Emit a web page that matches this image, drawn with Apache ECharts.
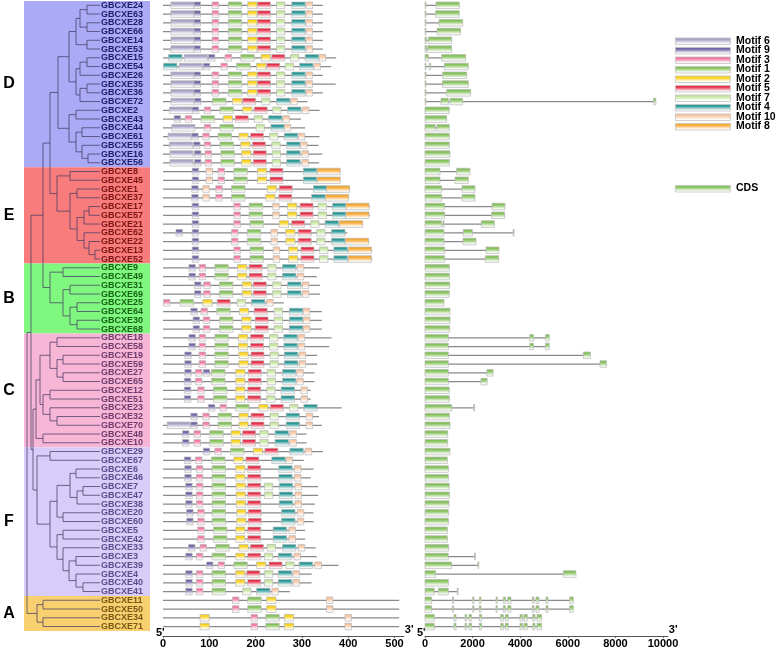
<!DOCTYPE html>
<html><head><meta charset="utf-8">
<script src="https://cdn.jsdelivr.net/npm/echarts@6/dist/echarts.min.js"></script>
<style>html,body{margin:0;padding:0;background:#fff}#c{width:777px;height:651px}</style>
</head><body><div id="c"></div>
<script>
// ---------------- DATA ----------------
const genes = [24,63,28,66,14,53,15,54,26,35,36,72,2,43,44,61,55,16,56,
  8,45,1,37,17,57,21,62,22,13,52,
  9,49,31,69,25,64,30,68,
  18,58,19,59,27,65,12,51,23,32,70,48,10,
  29,67,6,46,7,47,38,20,60,5,42,33,3,39,4,40,41,
  11,50,34,71];
const groupNames = ['D','E','B','C','F','A'];
const groupStart = [0,19,30,38,51,68];
const groupEnd   = [18,29,37,50,67,71];

const motifNames = ['Motif 6','Motif 9','Motif 3','Motif 1','Motif 2','Motif 5','Motif 7','Motif 4','Motif 10','Motif 8'];
const motifIds = [6,9,3,1,2,5,7,4,10,8];
const motifWidth = {6:50,9:14,3:14,1:29,2:20,5:28,7:18,4:29,10:14,8:50};

const proteinLen = [345,345,345,345,345,345,374,363,345,373,345,312,338,298,307,338,336,344,337,
  382,382,404,401,447,447,432,398,445,452,452,
  338,332,339,339,261,343,343,343,
  364,359,333,333,327,327,319,319,386,337,343,310,310,
  345,304,325,319,335,335,328,325,325,307,307,330,332,379,321,321,274,
  510,510,510,510];

const D0 = [[6,17],[9,67],[3,106],[1,141],[2,183],[5,204],[7,245],[4,278],[10,309]];
const motifs = [
  D0, D0, D0, D0, D0, D0,
  [[4,12],[6,46],[9,98],[3,134],[1,168],[2,212],[5,235],[7,275],[4,307],[10,337]],
  [[4,1],[6,35],[9,87],[3,125],[1,159],[2,202],[5,224],[7,264],[4,295],[10,326]],
  D0, D0, D0,
  [[6,17],[9,68],[1,107],[2,150],[5,172],[7,213],[4,245],[10,276]],
  [[6,14],[9,63],[3,89],[1,123],[2,172],[5,197],[7,237],[4,269],[10,301]],
  [[9,24],[3,48],[1,82],[2,130],[5,156],[7,197],[4,228],[10,259]],
  [[6,19],[3,89],[1,123],[7,201],[4,233],[10,262]],
  [[6,11],[9,62],[3,86],[1,119],[2,164],[5,189],[7,230],[4,262],[10,292]],
  [[6,14],[9,66],[3,89],[1,123],[2,168],[5,193],[7,235],[4,267],[10,297]],
  [[6,15],[9,68],[3,91],[1,125],[2,170],[5,195],[7,236],[4,267],[10,300]],
  [[6,15],[9,68],[3,91],[1,125],[2,170],[5,195],[7,236],[4,267],[10,300]],
  // E
  [[9,63],[10,93],[3,119],[1,153],[2,204],[5,231],[4,303],[8,333]],
  [[9,63],[10,93],[3,119],[1,153],[2,204],[5,231],[4,303],[8,333]],
  [[9,62],[10,86],[3,114],[1,148],[2,225],[5,251],[4,325],[8,353]],
  [[9,62],[10,86],[3,114],[1,148],[2,222],[5,250],[4,321],[8,351]],
  [[9,63],[3,153],[1,186],[10,237],[2,269],[5,296],[7,335],[4,366],[8,395]],
  [[9,63],[3,153],[1,186],[10,237],[2,269],[5,296],[7,335],[4,366],[8,395]],
  [[9,63],[3,153],[1,188],[2,251],[5,278],[7,319],[4,350],[8,381]],
  [[9,28],[9,63],[3,148],[1,182],[10,233],[2,265],[5,292],[7,332],[4,364]],
  [[9,63],[3,148],[1,182],[10,233],[2,265],[5,292],[7,332],[4,364],[8,394]],
  [[9,63],[3,153],[1,188],[10,238],[2,271],[5,298],[7,338],[4,369],[8,400]],
  [[9,63],[3,153],[1,188],[10,238],[2,271],[5,298],[7,338],[4,369],[8,400]],
  // B
  [[9,56],[3,78],[1,112],[2,161],[5,186],[7,226],[4,258],[10,290]],
  [[9,56],[3,78],[1,112],[2,161],[5,186],[7,226],[4,258],[10,290]],
  [[9,68],[3,88],[1,122],[2,171],[5,195],[7,237],[4,269],[10,301]],
  [[9,68],[3,88],[1,122],[2,171],[5,195],[7,237],[4,269],[10,301]],
  [[3,1],[1,37],[2,86],[5,117],[7,160],[4,191],[10,224]],
  [[9,60],[3,82],[1,116],[2,165],[5,197],[7,240],[4,273],[10,303]],
  [[9,65],[3,87],[1,122],[2,170],[5,199],[7,240],[4,273],[10,303]],
  [[9,65],[3,87],[1,122],[2,170],[5,199],[7,240],[4,273],[10,303]],
  // C
  [[9,56],[3,78],[1,112],[2,163],[5,189],[7,230],[4,261],[10,292]],
  [[9,56],[3,78],[1,112],[2,163],[5,189],[7,230],[4,261],[10,292]],
  [[9,47],[3,78],[1,112],[2,164],[5,190],[7,231],[4,262],[10,294]],
  [[9,47],[3,78],[1,112],[2,164],[5,190],[7,231],[4,262],[10,294]],
  [[9,47],[3,70],[9,87],[1,105],[2,157],[5,184],[7,225],[4,258],[10,289]],
  [[9,46],[3,70],[1,105],[2,157],[5,184],[7,225],[4,258],[10,289]],
  [[9,46],[3,75],[1,109],[2,157],[5,183],[7,224],[4,255],[10,298]],
  [[9,46],[3,75],[1,109],[2,157],[5,183],[7,224],[4,255],[10,298]],
  [[9,98],[3,123],[1,157],[2,207],[5,232],[7,273],[4,304]],
  [[9,60],[3,86],[1,119],[2,164],[5,190],[7,231],[4,266],[10,309]],
  [[6,9],[9,60],[3,86],[1,119],[2,164],[5,190],[7,231],[4,266],[10,309]],
  [[9,42],[3,67],[1,101],[2,147],[5,172],[7,209],[4,242],[10,274]],
  [[9,42],[3,67],[1,101],[2,147],[5,172],[7,209],[4,242],[10,274]],
  // F
  [[9,87],[3,112],[1,146],[2,195],[5,220],[4,274],[10,307]],
  [[9,46],[3,70],[1,105],[2,153],[5,179],[4,235],[10,266]],
  [[9,47],[3,72],[1,106],[2,157],[5,183],[4,250],[10,284]],
  [[9,47],[3,72],[1,106],[2,157],[5,183],[4,250],[10,284]],
  [[9,49],[3,72],[1,106],[2,158],[5,183],[7,219],[4,251],[10,285]],
  [[9,49],[3,72],[1,106],[2,158],[5,183],[7,219],[4,251],[10,285]],
  [[9,49],[3,72],[1,106],[2,158],[5,183],[4,251],[10,285]],
  [[9,51],[3,75],[1,106],[2,159],[5,184],[4,256],[10,290]],
  [[9,51],[3,75],[1,106],[2,159],[5,184],[4,256],[10,290]],
  [[3,75],[1,109],[2,157],[5,183],[4,238],[10,272]],
  [[3,75],[1,109],[2,157],[5,183],[4,238],[10,272]],
  [[9,55],[3,80],[1,114],[2,164],[5,189],[7,225],[4,258],[10,292]],
  [[9,49],[3,72],[1,106],[2,157],[5,183],[7,219],[4,249],[10,283]],
  [[9,94],[3,119],[1,153],[2,202],[5,229],[7,265],[4,294],[10,328]],
  [[9,49],[3,72],[1,106],[2,157],[5,181],[7,219],[4,249],[10,281]],
  [[9,49],[3,72],[1,106],[2,157],[5,183],[7,219],[4,249],[10,281]],
  [[9,49],[3,72],[1,106],[7,172],[4,202],[10,235]],
  // A
  [[3,150],[1,183],[2,224],[10,353]],
  [[3,150],[1,183],[2,224],[10,353]],
  [[2,80],[3,190],[1,222],[2,262],[10,393]],
  [[2,80],[3,190],[1,222],[2,262],[10,393]]
];

const A11 = [[0,280],[1150,1200],[2002,2058],[2282,2352],[2982,3038],[3290,3374],[3472,3612],[4508,4578],[4662,4788],[5082,5166],[6076,6230]];
const A34 = [[0,392],[1218,1302],[1680,1750],[1848,1960],[2282,2380],[3178,3290],[3374,3500],[3990,4102],[4158,4298],[4522,4620],[4704,4900]];
const exons = [
  [[0,40],[462,1442]],[[0,40],[448,1442]],[[0,40],[588,1582]],[[0,40],[504,1498]],
  [[0,60],[140,1120]],[[0,60],[112,1120]],[[0,140],[700,1708]],[[0,40],[182,238],[812,1820]],
  [[0,40],[742,1750]],[[0,40],[728,1820]],[[0,40],[910,1918]],
  [[0,40],[672,980],[1050,1582],[9600,9700]],
  [[0,1022]],[[0,910]],[[0,434],[504,1022]],[[0,1022]],[[0,1022]],[[0,1050]],[[0,1022]],
  // E
  [[0,630],[1330,1890]],[[0,630],[1260,1820]],[[0,700],[1554,2100]],[[0,700],[1554,2100]],
  [[0,826],[2814,3360]],[[0,826],[2800,3346]],[[0,700],[756,800],[2366,2912]],
  [[0,798],[1610,1988],[3700,3744]],[[0,798],[1596,2142]],[[0,826],[2562,3108]],[[0,826],[2534,3094]],
  // B
  [[0,1022]],[[0,1022]],[[0,1036]],[[0,1022]],[[0,798]],[[0,1050]],[[0,1050]],[[0,1036]],
  // C
  [[0,980],[4400,4560],[5060,5220]],[[0,980],[4400,4560],[5060,5220]],
  [[0,980],[6650,6950]],[[0,980],[7350,7620]],[[0,980],[2600,2860]],[[0,980],[2350,2610]],
  [[0,1022]],[[0,1022]],[[0,1120],[2040,2070]],[[0,1022]],[[0,1050]],[[0,952]],[[0,952]],
  // F
  [[0,1050]],[[0,938]],[[0,980]],[[0,980]],[[0,1022]],[[0,1022]],[[0,1008]],[[0,980]],[[0,980]],
  [[0,938]],[[0,938]],[[0,994]],[[0,980],[2080,2110]],[[0,1120],[2220,2250]],
  [[0,448],[5810,6342]],[[0,980]],[[0,392],[560,980],[1350,1372]],
  // A
  A11, A11, A34, A34
];

// tree: [nodeDepth, child, child...]; numbers are leaves (gene ids)
const treeD = [58,
  [69, [76, [80,[87,24,63],[87,28,66]], [87,14,53]],
       [76, [80,[87,15,54],26], [80,[87,35,36],72]]],
  [69, [76,2,43], [76,[82,44,61],[82,55,[88,16,56]]]]];
const treeE = [57, [70,8,45], [70,[77,1,37],[77,[84,[89,17,57],21],[84,62,[89,22,[95,13,52]]]]]];
const treeB = [50, [63,9,49], [63,[70,31,69],[70,[77,25,64],[77,30,68]]]];
const treeC = [36, [40,[50,[57,18,58],[57,[63,19,59],[63,27,65]]],[43,[50,12,51],[50,23,[57,32,70]]]], [43,48,10]];
const treeF = [37, [50,29,67], [50,[57,[70,[76,6,46],[77,[83,7,47],38]],[63,20,60]],[57,[63,5,42],[63,33,[69,[76,3,39],[76,4,[83,40,41]]]]]]];
const treeA = [37, [43,11,50], [43,34,71]];
const tree = [27, [31, [43,[50,treeD,treeE],treeB], [33,treeC,treeF]], treeA];

const axisMotifTicks = [0,100,200,300,400,500];
const axisGeneTicks = [0,2000,4000,6000,8000,10000];

// ---------------- STYLE / BUILD ----------------
const bandColors = ['#aaaaf6','#f87c7c','#80f880','#f8b6d6','#d8ccf8','#f8d070'];
const labelColors = ['#1c1c6a','#7a1414','#146414','#6e3c6e','#5c4c8c','#7a5814'];
const motifColors = {6:'#a7a3c5',9:'#7264a4',3:'#f27aa2',1:'#86c25c',2:'#f8d21c',5:'#e6304a',7:'#c6e6a0',4:'#2a9896',10:'#f8c6a2',8:'#f6a832'};
const cdsColor = '#86c25c';
const FONT = '"Liberation Sans", Arial, Helvetica, sans-serif';
function grad(c){
  return new echarts.graphic.LinearGradient(0,0,0,1,[
    {offset:0,color:c},{offset:0.28,color:c},{offset:0.85,color:'#ffffff'},{offset:1,color:'#f2f2f2'}]);
}

const rowOf = {}; genes.forEach((g,i)=>rowOf[g]=i);
const geneGroup = genes.map((g,i)=>{ for(let k=0;k<groupStart.length;k++){ if(i>=groupStart[k]&&i<=groupEnd[k]) return k;} return 0;});

const LEAF_X = 100;
const segs = [];
function lay(node){
  if (typeof node === 'number') return [LEAF_X, rowOf[node]];
  const x = node[0];
  const ch = node.slice(1).map(lay);
  const ys = ch.map(c=>c[1]);
  const y0 = Math.min(...ys), y1 = Math.max(...ys);
  segs.push([x,y0,x,y1]);
  ch.forEach(c=>segs.push([x,c[1],c[0],c[1]]));
  return [x,(y0+y1)/2];
}
lay(tree);

const bandData = groupNames.map((n,k)=>[groupStart[k],groupEnd[k],k]);
const labelData = genes.map((g,i)=>[i,geneGroup[i]]);
const motifBack = genes.map((g,i)=>[0,i,proteinLen[i]]);
const motifData = [];
motifs.forEach((arr,i)=>arr.forEach(m=>motifData.push([m[1],i,m[1]+motifWidth[m[0]],m[0]])));
const geneBack = exons.map((ex,i)=>[ex[0][0],i,ex[ex.length-1][1]]);
const exonData = [];
exons.forEach((ex,i)=>ex.forEach(e=>exonData.push([e[0],i,e[1]])));

const chart = echarts.init(document.getElementById('c'), null, {renderer:'canvas'});
const TOP = 0.9, H = 630, BOXH = 6.6;
const yAx = i=>({gridIndex:i,type:'value',min:-0.5,max:71.5,inverse:true,show:false});
const lbl = {color:'#000',fontWeight:'bold',fontSize:11,fontFamily:FONT,margin:3,showMaxLabel:true,showMinLabel:true,formatter:v=>String(v)};
const axisCommon = {
  type:'value', position:'bottom', offset:5,
  axisLine:{show:true,onZero:false,lineStyle:{color:'#555',width:1}},
  splitLine:{show:false},
  nameLocation:'end', nameGap:1,
  nameTextStyle:{color:'#000',fontWeight:'bold',fontSize:11,fontFamily:FONT,verticalAlign:'bottom'}
};

const legendGraphics = [];
motifNames.forEach((n,k)=>{
  const y = 37.5 + k*9.5;
  legendGraphics.push({type:'rect',left:675,top:y,shape:{width:55,height:BOXH},style:{fill:grad(motifColors[motifIds[k]]),stroke:'#c4c4c4',lineWidth:0.8}});
  legendGraphics.push({type:'text',left:736,top:y-2,style:{text:n,fill:'#000',font:'bold 10.5px '+FONT}});
});
legendGraphics.push({type:'rect',left:675,top:185,shape:{width:55,height:BOXH},style:{fill:grad(cdsColor),stroke:'#c4c4c4',lineWidth:0.8}});
legendGraphics.push({type:'text',left:736,top:183,style:{text:'CDS',fill:'#000',font:'bold 10.5px '+FONT}});
legendGraphics.push({type:'text',left:156,top:627,style:{text:"5'",fill:'#000',font:'bold 11px '+FONT}});
legendGraphics.push({type:'text',left:417,top:627,style:{text:"5'",fill:'#000',font:'bold 11px '+FONT}});

const option = {
  animation:false,
  backgroundColor:'#fff',
  grid:[
    {left:0,top:TOP,width:150,height:H},
    {left:163,top:TOP,width:240.8,height:H},
    {left:425,top:TOP,width:242.8,height:H}
  ],
  xAxis:[
    {gridIndex:0,type:'value',min:0,max:150,show:false},
    Object.assign({},axisCommon,{gridIndex:1,min:0,max:520,interval:100,name:"3'",
      axisLabel:Object.assign({},lbl,{customValues:axisMotifTicks}),
      axisTick:{show:true,length:2,lineStyle:{color:'#555'},customValues:axisMotifTicks}}),
    Object.assign({},axisCommon,{gridIndex:2,min:0,max:10200,interval:2000,name:"3'",
      axisLabel:Object.assign({},lbl,{customValues:axisGeneTicks}),
      axisTick:{show:true,length:2,lineStyle:{color:'#555'},customValues:axisGeneTicks}})
  ],
  yAxis:[yAx(0),yAx(1),yAx(2)],
  graphic:legendGraphics,
  series:[
    {type:'custom',xAxisIndex:0,yAxisIndex:0,data:bandData,z:1,
     renderItem:(p,api)=>{
       const a = api.coord([24, api.value(0)-0.5]);
       const b = api.coord([150, api.value(1)+0.5]);
       const k = api.value(2);
       const mid = api.coord([9, (api.value(0)+api.value(1))/2]);
       return {type:'group',children:[
         {type:'rect',shape:{x:a[0],y:a[1],width:b[0]-a[0],height:b[1]-a[1]},style:{fill:bandColors[k]}},
         {type:'text',style:{text:groupNames[k],x:mid[0],y:mid[1],fill:'#000',font:'bold 16px '+FONT,align:'center',verticalAlign:'middle'}}
       ]};
     }},
    {type:'custom',xAxisIndex:0,yAxisIndex:0,data:segs,z:2,
     renderItem:(p,api)=>{
       const a = api.coord([api.value(0),api.value(1)]);
       const b = api.coord([api.value(2),api.value(3)]);
       return {type:'line',shape:{x1:a[0],y1:a[1],x2:b[0],y2:b[1]},style:{stroke:'rgba(70,60,100,0.75)',lineWidth:1}};
     }},
    {type:'custom',xAxisIndex:0,yAxisIndex:0,data:labelData,z:3,
     renderItem:(p,api)=>{
       const i = api.value(0);
       const a = api.coord([LEAF_X+1, i]);
       return {type:'text',style:{text:'GBCXE'+genes[i],x:a[0],y:a[1],fill:labelColors[api.value(1)],font:'bold 9px '+FONT,align:'left',verticalAlign:'middle'}};
     }},
    {type:'custom',xAxisIndex:1,yAxisIndex:1,data:motifBack,z:2,
     renderItem:(p,api)=>{
       const a = api.coord([api.value(0),api.value(1)]);
       const b = api.coord([api.value(2),api.value(1)]);
       return {type:'line',shape:{x1:a[0],y1:a[1],x2:b[0],y2:b[1]},style:{stroke:'#8a8a8a',lineWidth:1.3}};
     }},
    {type:'custom',xAxisIndex:1,yAxisIndex:1,data:motifData,z:3,
     renderItem:(p,api)=>{
       const a = api.coord([api.value(0),api.value(1)]);
       const b = api.coord([api.value(2),api.value(1)]);
       return {type:'rect',shape:{x:a[0],y:a[1]-BOXH/2,width:b[0]-a[0],height:BOXH},style:{fill:grad(motifColors[api.value(3)]),stroke:'#b8b8b8',lineWidth:0.7}};
     }},
    {type:'custom',xAxisIndex:2,yAxisIndex:2,data:geneBack,z:2,
     renderItem:(p,api)=>{
       const a = api.coord([api.value(0),api.value(1)]);
       const b = api.coord([api.value(2),api.value(1)]);
       return {type:'line',shape:{x1:a[0],y1:a[1],x2:b[0],y2:b[1]},style:{stroke:'#8a8a8a',lineWidth:1.3}};
     }},
    {type:'custom',xAxisIndex:2,yAxisIndex:2,data:exonData,z:3,
     renderItem:(p,api)=>{
       const a = api.coord([api.value(0),api.value(1)]);
       const b = api.coord([api.value(2),api.value(1)]);
       return {type:'rect',shape:{x:a[0],y:a[1]-BOXH/2,width:Math.max(1,b[0]-a[0]),height:BOXH},style:{fill:grad(cdsColor),stroke:'#b8b8b8',lineWidth:0.7}};
     }}
  ]
};
chart.setOption(option);
</script></body></html>
